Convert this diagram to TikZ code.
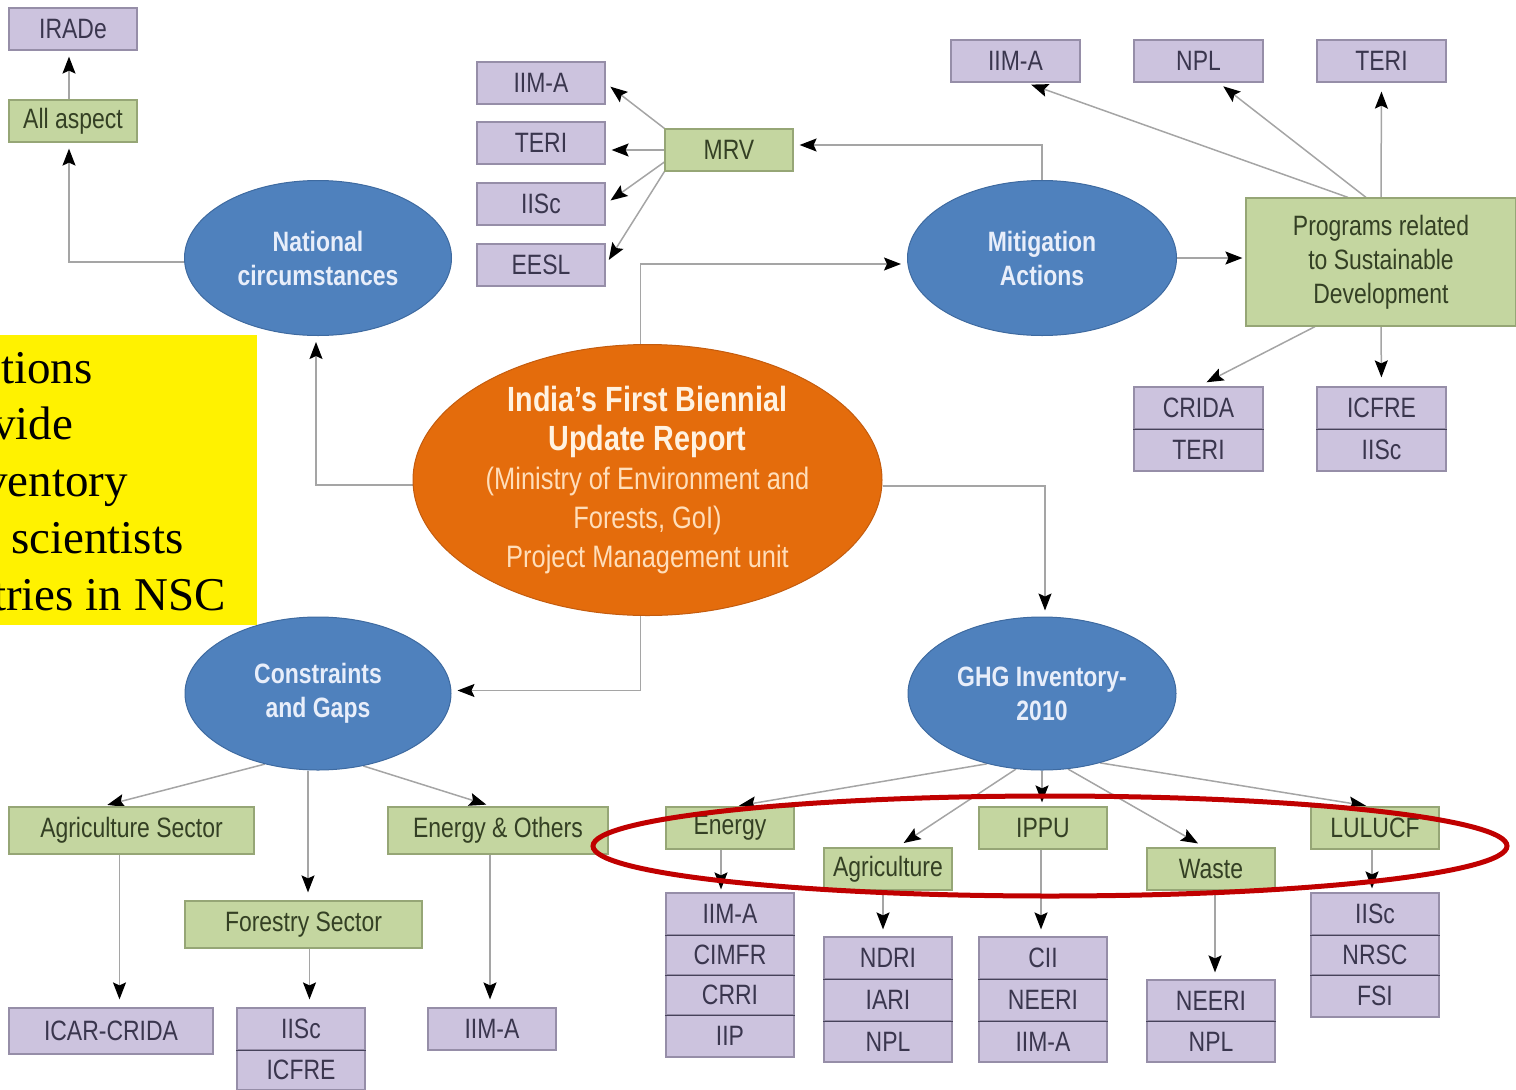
\documentclass[tikz,border=0pt]{standalone}
\usepackage{fontspec}
\setmainfont{Liberation Sans}
\newfontfamily\condf[FakeStretch=0.82]{Liberation Sans}
\newfontfamily\tmsf{Liberation Serif}
\usetikzlibrary{shapes.geometric,arrows.meta,backgrounds,calc}
\definecolor{pur}{RGB}{204,195,222}
\definecolor{purb}{RGB}{150,142,168}
\definecolor{purd}{RGB}{70,66,90}
\definecolor{grn}{RGB}{196,214,160}
\definecolor{grnb}{RGB}{150,166,118}
\definecolor{ptxt}{RGB}{58,54,78}
\definecolor{gtxt}{RGB}{52,64,36}
\definecolor{blu}{RGB}{79,129,189}
\definecolor{blub}{RGB}{62,106,160}
\definecolor{etxt}{RGB}{232,238,250}
\definecolor{orng}{RGB}{228,108,12}
\definecolor{orngb}{RGB}{196,92,14}
\definecolor{ttl}{RGB}{255,242,225}
\definecolor{subt}{RGB}{255,222,186}
\definecolor{lgr}{RGB}{165,165,165}
\definecolor{redc}{RGB}{192,0,0}
\begin{document}
\begin{tikzpicture}[x=1pt,y=-1pt,
  box/.style={line width=1.2pt, minimum width=128pt, minimum height=42pt, inner sep=0pt, font=\condf\fontsize{28}{30}\selectfont},
  pbox/.style={box, fill=pur, draw=purb, text=ptxt},
  gbox/.style={box, fill=grn, draw=grnb, text=gtxt},
  bell/.style={ellipse, fill=blu, draw=blub, line width=1pt, text=etxt, align=center, font=\condf\bfseries\fontsize{28}{34}\selectfont, minimum width=267pt, minimum height=155pt, inner sep=0pt},
  conn/.style={draw=lgr, line width=1.5pt},
  arr/.style={conn, -{Stealth[length=17pt,width=13pt,inset=3pt,color=black]}, shorten >=6pt},
  divl/.style={draw=purd, line width=1.6pt},
  yline/.style={anchor=base west, inner sep=0pt, font=\tmsf\fontsize{47}{56}\selectfont}
]
\useasboundingbox (0,0) rectangle (1516,1090);

% top left
\node[pbox] (irade) at (73,29) {IRADe};
\node[gbox] (all) at (73,121) {All aspect};
\node[bell] (nat) at (318,258) {National\\circumstances};

% MRV cluster
\node[pbox] (iima1) at (541,83) {IIM-A};
\node[pbox] (teri1) at (541,143) {TERI};
\node[pbox] (iisc1) at (541,204) {IISc};
\node[pbox] (eesl) at (541,265) {EESL};
\node[gbox] (mrv) at (729,150) {MRV};
\node[bell, minimum width=269pt] (mit) at (1042,258) {Mitigation\\Actions};

% top right
\node[pbox, minimum width=129pt] (iima2) at (1015.5,61) {IIM-A};
\node[pbox, minimum width=129pt] (npl) at (1198.5,61) {NPL};
\node[pbox, minimum width=129pt] (teri2) at (1381.5,61) {TERI};
\node[gbox, minimum width=270pt, minimum height=128pt, align=center, font=\condf\fontsize{28}{34}\selectfont] (prog) at (1381,262) {Programs related\\to Sustainable\\Development};
\node[pbox, minimum width=129pt] (crida) at (1198.5,408) {CRIDA};
\node[pbox, minimum width=129pt] (teri3) at (1198.5,450) {TERI};
\node[pbox, minimum width=129pt] (icfre) at (1381.5,408) {ICFRE};
\node[pbox, minimum width=129pt] (iisc2) at (1381.5,450) {IISc};

% centre
\node[ellipse, fill=orng, draw=orngb, line width=1pt, minimum width=469pt, minimum height=271pt, inner sep=0pt, align=center, font=\condf\fontsize{31}{39}\selectfont] (bur) at (647.5,480)
  {{\bfseries\fontsize{35}{44}\selectfont\color{ttl}India’s First Biennial}\\
   {\bfseries\fontsize{35}{44}\selectfont\color{ttl}Update Report}\\
   {\color{subt}(Ministry of Environment and}\\
   {\color{subt}Forests, GoI)}\\
   {\color{subt}Project Management unit}};

% yellow note
\node[fill=yellow, inner sep=0pt, minimum width=257pt, minimum height=290pt, anchor=north west] (note) at (0,335) {};
\begin{scope}
\clip (note.north west) rectangle (note.south east);
\node[yline] (y1) at (1,383) {tions};
\node[yline] (y2) at (-8,439) {vide};
\node[yline] (y3) at (-16,496) {ventory};
\node[yline] (y4) at (11,553) {scientists};
\node[yline] (y5) at (-7,610) {tries in NSC};
\end{scope}

% constraints
\node[bell, minimum width=266pt, minimum height=153pt] (cg) at (318,693.5) {Constraints\\and Gaps};
\node[gbox, minimum width=245pt, minimum height=47pt] (agris) at (131.5,830.5) {Agriculture Sector};
\node[gbox, minimum width=220pt, minimum height=47pt] (energyo) at (498,830.5) {Energy \& Others};
\node[gbox, minimum width=237pt, minimum height=47pt] (forestry) at (303.5,924.5) {Forestry Sector};
\node[pbox, minimum width=204pt, minimum height=46pt] (icar) at (111,1031) {ICAR-CRIDA};
\node[pbox] (iisc3) at (301,1029) {IISc};
\node[pbox, minimum height=40pt] (icfre2) at (301,1070) {ICFRE};
\node[pbox] (iima3) at (492,1029) {IIM-A};

% GHG
\node[bell, minimum width=268pt, minimum height=153pt] (ghg) at (1042,693.5) {GHG Inventory-\\2010};
\node[gbox] (energyg) at (730,828) {Energy};
\node[gbox] (agrig) at (888,869) {Agriculture};
\node[gbox] (ippu) at (1043,828) {IPPU};
\node[gbox] (waste) at (1211,869) {Waste};
\node[gbox] (lulucf) at (1375,828) {LULUCF};

\node[pbox] (e1) at (730,914) {IIM-A};
\node[pbox, minimum height=40pt] (e2) at (730,955) {CIMFR};
\node[pbox, minimum height=40pt] (e3) at (730,995) {CRRI};
\node[pbox] (e4) at (730,1036) {IIP};

\node[pbox] (a1) at (888,958) {NDRI};
\node[pbox] (a2) at (888,1000) {IARI};
\node[pbox, minimum height=41pt] (a3) at (888,1041.5) {NPL};

\node[pbox] (i1) at (1043,958) {CII};
\node[pbox] (i2) at (1043,1000) {NEERI};
\node[pbox, minimum height=41pt] (i3) at (1043,1041.5) {IIM-A};

\node[pbox, minimum height=41pt] (w1) at (1211,1000.5) {NEERI};
\node[pbox, minimum height=41pt] (w2) at (1211,1041.5) {NPL};

\node[pbox] (l1) at (1375,914) {IISc};
\node[pbox, minimum height=40pt] (l2) at (1375,955) {NRSC};
\node[pbox] (l3) at (1375,996) {FSI};

% dividers in stacks
\draw[divl] (crida.south west) -- (crida.south east);
\draw[divl] (icfre.south west) -- (icfre.south east);
\draw[divl] (iisc3.south west) -- (iisc3.south east);
\draw[divl] (e1.south west) -- (e1.south east);
\draw[divl] (e2.south west) -- (e2.south east);
\draw[divl] (e3.south west) -- (e3.south east);
\draw[divl] (a1.south west) -- (a1.south east);
\draw[divl] (a2.south west) -- (a2.south east);
\draw[divl] (i1.south west) -- (i1.south east);
\draw[divl] (i2.south west) -- (i2.south east);
\draw[divl] (w1.south west) -- (w1.south east);
\draw[divl] (l1.south west) -- (l1.south east);
\draw[divl] (l2.south west) -- (l2.south east);

% connectors
\begin{scope}[on background layer]
\draw[arr] ($(all.north)+(-4,0)$) -- ($(irade.south)+(-4,0)$);
\draw[arr] ([yshift=-4pt]nat.west) -| ([xshift=-4pt]all.south);
\draw[arr] ([yshift=-5pt]bur.west) -| ([xshift=-2pt]nat.south);
\draw[arr] ([xshift=-7pt]bur.north) |- ([yshift=-6pt]mit.west);
\draw[arr] ([yshift=-6pt]bur.east) -| ([xshift=3pt]ghg.north);
\draw[arr] ([xshift=-7pt]bur.south) |- ([yshift=3pt]cg.east);
\draw[arr] (mit.north) |- ([yshift=5pt]mrv.east);
\draw[arr, shorten >=3pt] (mit.east) -- (mit.east -| prog.west);
\draw[arr] (mrv.north west) -- (iima1.east);
\draw[arr] (mrv.west) -- (mrv.west -| teri1.east);
\draw[arr] ([yshift=-12pt]mrv.west) -- (iisc1.east);
\draw[arr] (mrv.south west) -- (eesl.east);
\draw[arr] ([xshift=-33pt]prog.north) -- ([xshift=10pt]iima2.south);
\draw[arr] ([xshift=-15pt]prog.north) -- ([xshift=20pt]npl.south);
\draw[arr, shorten >=9pt] (prog.north) -- (teri2.south);
\draw[arr, shorten >=9pt] ([xshift=-66pt]prog.south) -- (crida.north);
\draw[arr, shorten >=9pt] (prog.south) -- (icfre.north);
\draw[arr] (cg.-127) -- ([xshift=-30pt]agris.north);
\draw[arr, shorten >=8pt] ($(cg.south)+(-10,0)$) -- ($(cg.south |- forestry.north)+(-10,0)$);
\draw[arr] (cg.-58) -- ([xshift=-6pt]energyo.north);
\draw[arr, shorten >=8pt] ($(agris.south)+(-12,0)$) -- ($(agris.south |- icar.north)+(-12,0)$);
\draw[arr, shorten >=8pt] ($(forestry.south)+(6,0)$) -- ($(forestry.south |- iisc3.north)+(6,0)$);
\draw[arr, shorten >=8pt] ($(energyo.south)+(-8,0)$) -- ($(energyo.south |- iima3.north)+(-8,0)$);
\draw[arr, shorten >=4pt] (ghg.-128) -- ([xshift=5pt]energyg.north);
\draw[arr, shorten >=8pt] (ghg.-109) -- ([xshift=9pt]agrig.north);
\draw[arr, shorten >=4pt] (ghg.south) -- (ghg.south |- ippu.north);
\draw[arr, shorten >=8pt] (ghg.-71) -- ([xshift=-6pt]waste.north);
\draw[arr, shorten >=4pt] (ghg.-50) -- ([xshift=-5pt]lulucf.north);
\draw[arr, shorten >=3pt] ($(energyg.south)+(-9,0)$) -- ($(energyg.south |- e1.north)+(-9,0)$);
\draw[arr, shorten >=7pt] ($(agrig.south)+(-5,0)$) -- ($(agrig.south |- a1.north)+(-5,0)$);
\draw[arr, shorten >=7pt] ($(ippu.south)+(-2,0)$) -- ($(ippu.south |- i1.north)+(-2,0)$);
\draw[arr, shorten >=7pt] ($(waste.south)+(4,0)$) -- ($(waste.south |- w1.north)+(4,0)$);
\draw[arr, shorten >=4pt] ($(lulucf.south)+(-3,0)$) -- ($(lulucf.south |- l1.north)+(-3,0)$);
\end{scope}

% red highlight
\node[ellipse, draw=redc, line width=5pt, minimum width=914pt, minimum height=100pt, inner sep=0pt] (hl) at (1050,846) {};
\end{tikzpicture}
\end{document}
